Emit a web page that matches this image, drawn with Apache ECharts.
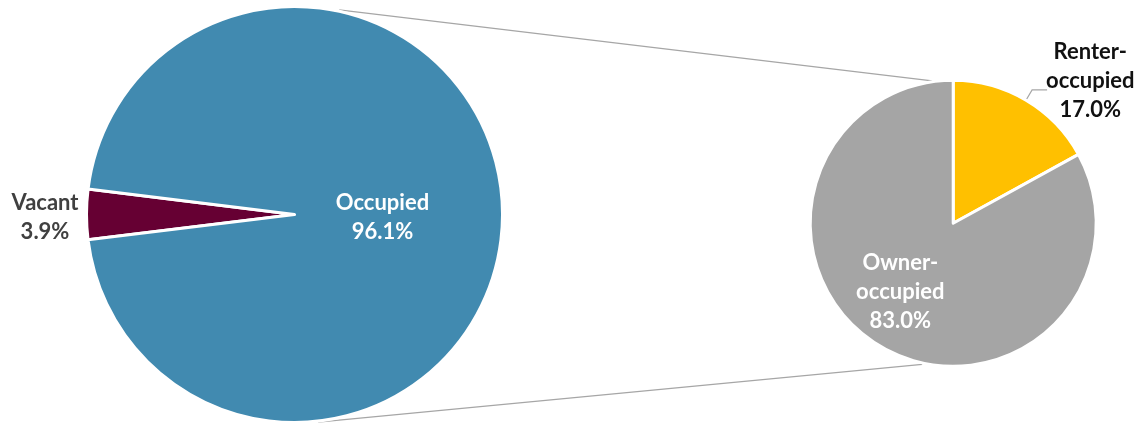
<!DOCTYPE html>
<html>
<head>
<meta charset="utf-8">
<script src="https://cdn.jsdelivr.net/npm/echarts@6/dist/echarts.min.js"></script>
<style>html,body{margin:0;padding:0;background:#fff}#c{width:1146px;height:424px}</style>
</head>
<body>
<div id="c"></div>
<script>
// Data
const mainCategories = ['Vacant', 'Occupied'];
const mainValues = [3.9, 96.1];
const subCategories = ['Renter-\noccupied', 'Owner-\noccupied'];
const subValues = [17.0, 83.0];

// Layout
const L = { cx: 294.5, cy: 214.5, r: 208 };
const R = { cx: 953.2, cy: 223.3, r: 143 };
const FONT = 'Lato, "Open Sans", sans-serif';
const FS = 22;

function pt(c, deg, extra) {
  const a = deg * Math.PI / 180;
  const rr = c.r + extra;
  return [c.cx + rr * Math.cos(a), c.cy - rr * Math.sin(a)];
}
const t1 = pt(L, 77.7, 1.5), t2 = pt(R, 98.4, 1);
const b1 = pt(L, -83.5, 1), b2 = pt(R, -102.4, 1.5);

const chart = echarts.init(document.getElementById('c'), null, { renderer: 'canvas' });

const labelBase = {
  fontFamily: FONT, fontWeight: 'bold', fontSize: FS, lineHeight: 29,
  formatter: p => p.name + '\n' + p.value.toFixed(1) + '%'
};

chart.setOption({
  animation: false,
  graphic: [
    { type: 'line', shape: { x1: t1[0], y1: t1[1], x2: t2[0], y2: t2[1] }, style: { stroke: '#A6A6A6', lineWidth: 1.2 }, z: 0 },
    { type: 'line', shape: { x1: b1[0], y1: b1[1], x2: b2[0], y2: b2[1] }, style: { stroke: '#A6A6A6', lineWidth: 1.2 }, z: 0 }
  ],
  series: [
    {
      type: 'pie',
      center: [L.cx, L.cy],
      radius: [0, L.r],
      startAngle: 187,
      clockwise: true,
      avoidLabelOverlap: false,
      itemStyle: { borderColor: '#fff', borderWidth: 3 },
      label: labelBase,
      labelLine: { show: false, length: 0, length2: 0 },
      labelLayout: function (p) {
        if (p.dataIndex === 0) return { align: 'center', dx: -p.labelRect.width / 2 - 2, dy: 3 };
        return { dx: -19, dy: 3 };
      },
      data: mainCategories.map((n, i) => ({
        name: n, value: mainValues[i],
        itemStyle: { color: i === 0 ? '#660033' : '#418AB0' },
        label: i === 0
          ? { position: 'outside', color: '#404040', distanceToLabelLine: 6 }
          : { position: 'inside', color: '#fff' }
      }))
    },
    {
      type: 'pie',
      center: [R.cx, R.cy],
      radius: [0, R.r],
      startAngle: 90,
      clockwise: true,
      avoidLabelOverlap: false,
      itemStyle: { borderColor: '#fff', borderWidth: 3 },
      label: labelBase,
      labelLine: { show: true, length: 12, length2: 15, lineStyle: { color: '#A6A6A6', width: 1.2 } },
      labelLayout: function (p) {
        if (p.dataIndex === 0) return { align: 'center', dx: p.labelRect.width / 2 - 3, dy: -9 };
        return { dx: -15, dy: 4 };
      },
      data: subCategories.map((n, i) => ({
        name: n, value: subValues[i],
        itemStyle: { color: i === 0 ? '#FFC000' : '#A5A5A5' },
        label: i === 0
          ? { position: 'outside', color: '#111', distanceToLabelLine: 2 }
          : { position: 'inside', color: '#fff' },
        labelLine: { show: i === 0 }
      }))
    }
  ]
});
</script>
</body>
</html>
